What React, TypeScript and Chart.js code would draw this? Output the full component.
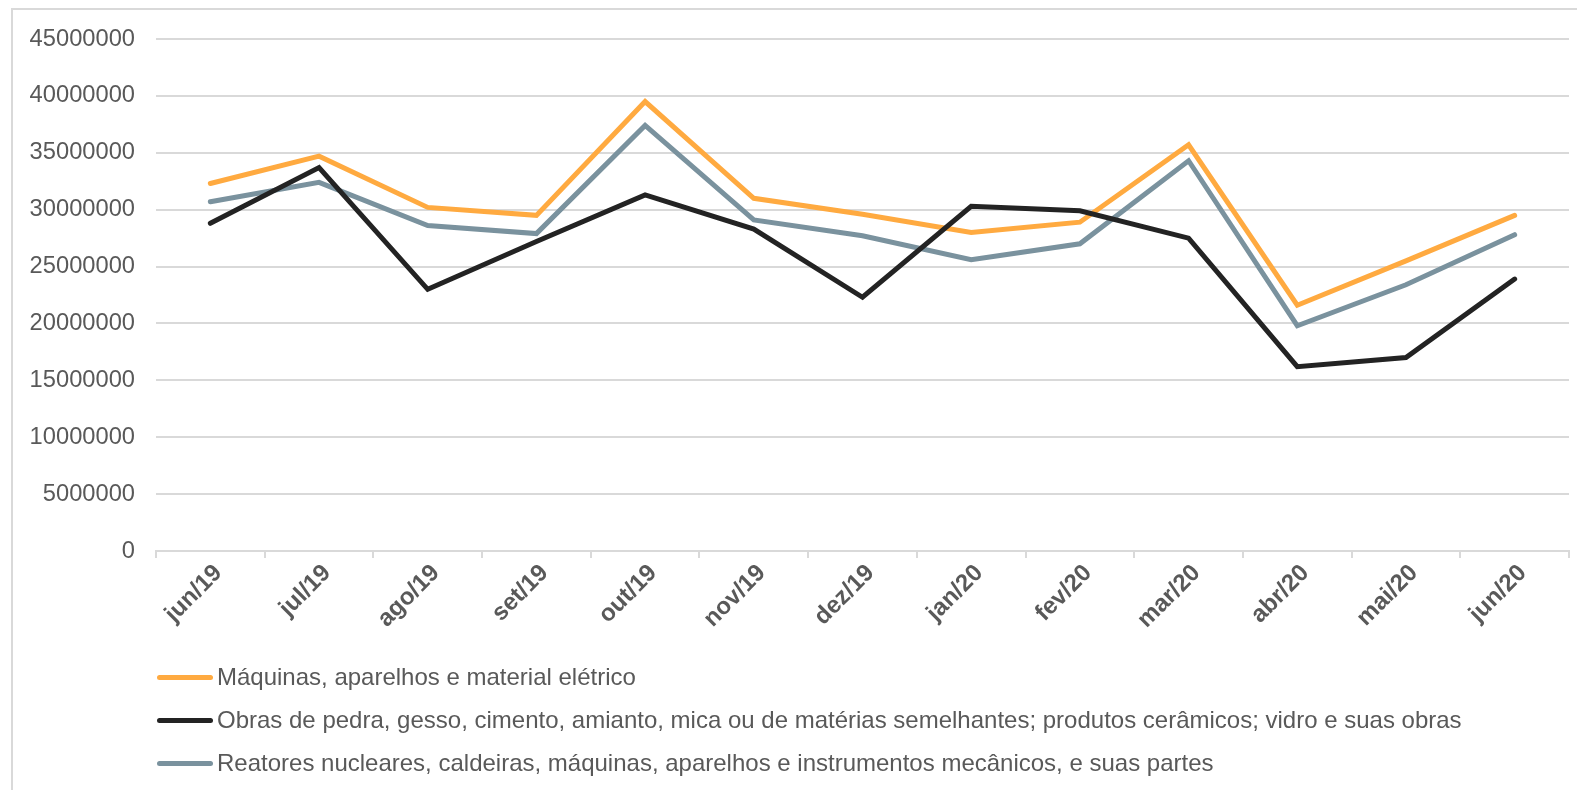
import React, { useEffect, useRef } from "react";
import { Chart, registerables } from "chart.js";

Chart.register(...registerables);

const categories = [
  "jun/19", "jul/19", "ago/19", "set/19", "out/19", "nov/19", "dez/19",
  "jan/20", "fev/20", "mar/20", "abr/20", "mai/20", "jun/20",
];

const seriesNames = [
  "Máquinas, aparelhos e material elétrico",
  "Obras de pedra, gesso, cimento, amianto, mica ou de matérias semelhantes; produtos cerâmicos; vidro e suas obras",
  "Reatores nucleares, caldeiras, máquinas, aparelhos e instrumentos mecânicos, e suas partes",
];

const maquinas = [
  32300000, 34700000, 30200000, 29500000, 39500000, 31000000, 29600000,
  28000000, 28900000, 35700000, 21600000, 25500000, 29500000,
];

const obras = [
  28800000, 33700000, 23000000, 27200000, 31300000, 28300000, 22300000,
  30300000, 29900000, 27500000, 16200000, 17000000, 23900000,
];

const reatores = [
  30700000, 32400000, 28600000, 27900000, 37400000, 29100000, 27700000,
  25600000, 27000000, 34300000, 19800000, 23400000, 27800000,
];

const yTickValues = [0, 5000000, 10000000, 15000000, 20000000, 25000000, 30000000, 35000000, 40000000, 45000000];

const colors = ["#FFAA40", "#232323", "#7A929E"];

const FONT = "'Liberation Sans', Arial, sans-serif";

export default function App() {
  const ref = useRef<HTMLCanvasElement | null>(null);

  useEffect(() => {
    if (!ref.current) return;
    const chart = new Chart(ref.current, {
      type: "line",
      data: {
        labels: categories,
        datasets: [
          { label: seriesNames[0], data: maquinas, borderColor: colors[0], backgroundColor: colors[0], order: 1 },
          { label: seriesNames[1], data: obras, borderColor: colors[1], backgroundColor: colors[1], order: 0 },
          { label: seriesNames[2], data: reatores, borderColor: colors[2], backgroundColor: colors[2], order: 2 },
        ].map((d) => ({
          ...d,
          borderWidth: 5,
          pointRadius: 0,
          pointHoverRadius: 0,
          tension: 0,
          fill: false,
          borderCapStyle: "round" as const,
        })),
      },
      options: {
        responsive: false,
        animation: false,
        events: [],
        layout: { padding: { left: 0, right: 8, top: 39, bottom: 139 } },
        plugins: {
          legend: { display: false },
          tooltip: { enabled: false },
        },
        scales: {
          x: {
            offset: true,
            grid: {
              offset: true,
              drawOnChartArea: false,
              drawTicks: true,
              tickLength: 7,
              color: "#d9d9d9",
              lineWidth: 2,
            },
            border: { display: true, color: "#d9d9d9", width: 2 },
            ticks: {
              autoSkip: false,
              minRotation: 45,
              maxRotation: 45,
              padding: 1,
              labelOffset: 8,
              color: "#595959",
              font: { family: FONT, size: 24, weight: "bold" },
            },
            afterFit: (s: any) => {
              s.height = 100;
            },
          },
          y: {
            min: 0,
            max: 45000000,
            afterBuildTicks: (s: any) => {
              s.ticks = yTickValues.map((v) => ({ value: v }));
            },
            grid: {
              color: "#d9d9d9",
              lineWidth: 2,
              drawTicks: false,
              tickLength: 0,
            },
            border: { display: false },
            ticks: {
              padding: 21,
              color: "#595959",
              font: { family: FONT, size: 23.7 },
              callback: (v: any) => String(v),
            },
            afterFit: (s: any) => {
              s.width = 156;
            },
          },
        },
      },
    });
    return () => chart.destroy();
  }, []);

  return (
    <div style={{ position: "absolute", left: 0, top: 0, width: 1577, height: 790, overflow: "hidden", background: "#fff" }}>
      <div
        style={{
          position: "absolute",
          left: 11,
          top: 8,
          width: 1620,
          height: 820,
          border: "2px solid #d9d9d9",
          boxSizing: "border-box",
        }}
      />
      <canvas ref={ref} width={1577} height={790} style={{ position: "absolute", left: 0, top: 0, width: 1577, height: 790 }} />
      {seriesNames.map((name, i) => (
        <div
          key={name}
          style={{
            position: "absolute",
            left: 157,
            top: 663 + i * 43,
            height: 28,
            display: "flex",
            alignItems: "center",
            whiteSpace: "nowrap",
            fontFamily: FONT,
            fontSize: 24,
            color: "#595959",
          }}
        >
          <span
            style={{
              display: "inline-block",
              width: 56,
              height: 5,
              borderRadius: 3,
              background: colors[i],
              marginRight: 4,
            }}
          />
          <span>{name}</span>
        </div>
      ))}
    </div>
  );
}
